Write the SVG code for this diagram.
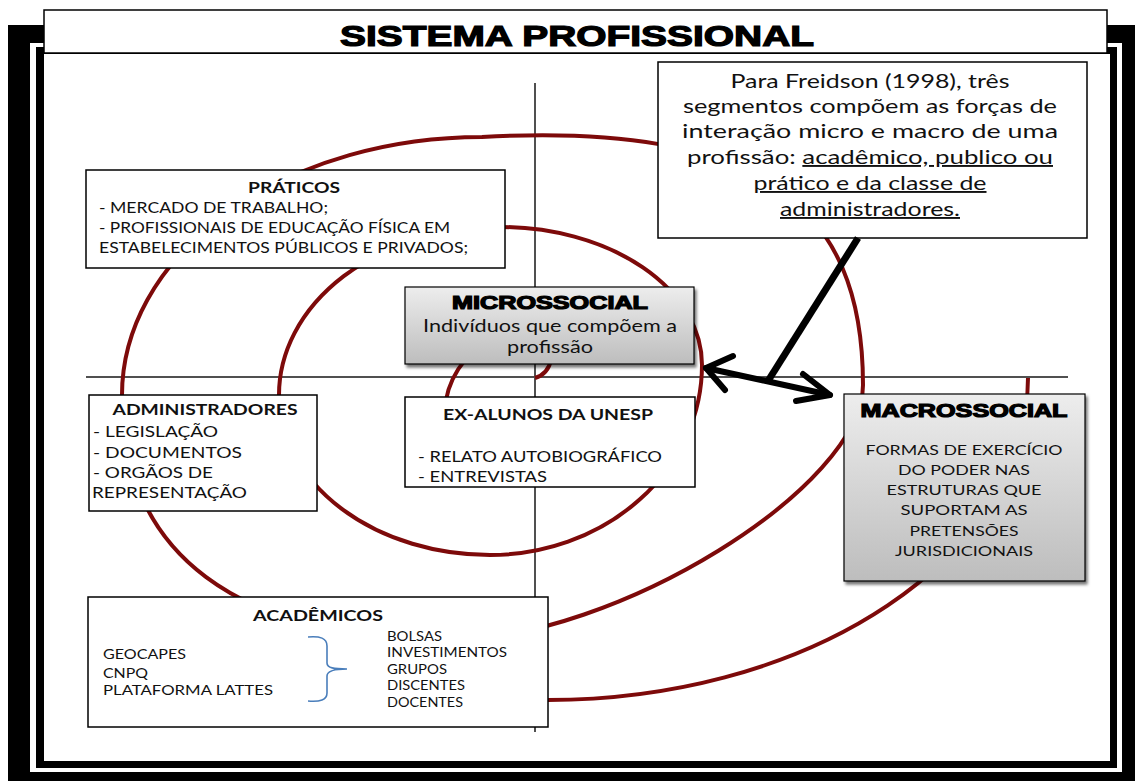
<svg xmlns="http://www.w3.org/2000/svg" width="1135" height="781" viewBox="0 0 1135 781">
<defs>
<style>
.t{font-family:Lato,"Open Sans","Liberation Sans",sans-serif;fill:#111}
.b{font-weight:bold}
.h{font-family:"Liberation Sans",Arial,sans-serif;font-weight:bold;fill:#000;stroke:#000;stroke-width:1.2}
.box{fill:#fff;stroke:#000;stroke-width:1.5}
.gbox{stroke:#000;stroke-width:1.2;filter:url(#sh)}
.sp{fill:none;stroke:#7d0a0a;stroke-width:4}
.ax{stroke:#505050;stroke-width:2;fill:none}
.ar{stroke:#000;stroke-width:6;fill:none;stroke-linecap:round;stroke-linejoin:round}
</style>
<linearGradient id="g" x1="0" y1="0" x2="0" y2="1">
<stop offset="0" stop-color="#ededed"/>
<stop offset="1" stop-color="#bdbdbd"/>
</linearGradient>
<filter id="sh" x="-5%" y="-5%" width="115%" height="120%">
<feDropShadow dx="2" dy="3" stdDeviation="1.5" flood-color="#000" flood-opacity="0.55"/>
</filter>
</defs>

<g id="frame">
<rect x="8" y="25" width="1127" height="756" fill="#000"/>
<rect x="30" y="43" width="1092" height="729" fill="#fff"/>
<rect x="36" y="47" width="1081" height="721" fill="#000"/>
<rect x="44" y="54" width="1066" height="707" fill="#fff"/>
</g>

<g id="title">
<rect x="44" y="10" width="1063" height="43" class="box"/>
<text x="577" y="46" class="h" font-size="29" text-anchor="middle" textLength="474" lengthAdjust="spacingAndGlyphs" stroke-width="1.6">SISTEMA PROFISSIONAL</text>
</g>

<g id="axes">
<line x1="535" y1="83" x2="535" y2="732" class="ax"/>
<line x1="86" y1="377" x2="1068" y2="377" class="ax"/>
</g>

<g id="spiral">
<path class="sp" d="M 122 395 A 360 258 0 0 1 482 137 C 760 122 863 205 863 385 C 863 487 615 640 450 640 C 237 640 122 554 122 395 Z"/>
<path class="sp" d="M 279 395 A 221 168 0 0 1 500 227 A 202 138 0 0 1 702 365 A 212 190 0 0 1 490 555 A 211 160 0 0 1 279 395 Z"/>
<path class="sp" d="M 535 378 Q 548 374 551 360"/>
<path class="sp" d="M 465 360 Q 450 378 446 400"/>
<path class="sp" d="M 1028 378 A 480 322 0 0 1 548 700"/>
</g>

<g id="praticos">
<rect x="86" y="170" width="419" height="98" class="box"/>
<text class="t b" x="294" y="193" font-size="15" text-anchor="middle" textLength="92" lengthAdjust="spacingAndGlyphs">PRÁTICOS</text>
<text class="t" x="99" y="213" font-size="15" textLength="229" lengthAdjust="spacingAndGlyphs">- MERCADO DE TRABALHO;</text>
<text class="t" x="99" y="233" font-size="15" textLength="351" lengthAdjust="spacingAndGlyphs">- PROFISSIONAIS DE EDUCAÇÃO FÍSICA EM</text>
<text class="t" x="99" y="253" font-size="15" textLength="369" lengthAdjust="spacingAndGlyphs">ESTABELECIMENTOS PÚBLICOS E PRIVADOS;</text>
</g>

<g id="freidson">
<rect x="658" y="62" width="429" height="176" class="box"/>
<text class="t" x="870" y="88" font-size="19" text-anchor="middle" textLength="279" lengthAdjust="spacingAndGlyphs">Para Freidson (1998), três</text>
<text class="t" x="870" y="113" font-size="19" text-anchor="middle" textLength="374" lengthAdjust="spacingAndGlyphs">segmentos compõem as forças de</text>
<text class="t" x="870" y="138" font-size="19" text-anchor="middle" textLength="376" lengthAdjust="spacingAndGlyphs">interação micro e macro de uma</text>
<text class="t" x="870" y="164" font-size="19" text-anchor="middle" textLength="366" lengthAdjust="spacingAndGlyphs">profissão: <tspan text-decoration="underline">acadêmico, publico ou</tspan></text>
<text class="t" x="870" y="190" font-size="19" text-anchor="middle" textLength="233" lengthAdjust="spacingAndGlyphs" text-decoration="underline">prático e da classe de</text>
<text class="t" x="870" y="216" font-size="19" text-anchor="middle" textLength="180" lengthAdjust="spacingAndGlyphs" text-decoration="underline">administradores.</text>
</g>

<g id="microssocial">
<rect x="405" y="287" width="289" height="77" fill="url(#g)" class="gbox"/>
<text class="h" x="550" y="309" font-size="18" text-anchor="middle" textLength="196" lengthAdjust="spacingAndGlyphs">MICROSSOCIAL</text>
<text class="t" x="550" y="332" font-size="17" text-anchor="middle" textLength="254" lengthAdjust="spacingAndGlyphs">Indivíduos que compõem a</text>
<text class="t" x="550" y="353" font-size="17" text-anchor="middle" textLength="86" lengthAdjust="spacingAndGlyphs">profissão</text>
</g>

<g id="exalunos">
<rect x="405" y="397" width="290" height="90" class="box"/>
<text class="t b" x="548" y="420" font-size="15" text-anchor="middle" textLength="210" lengthAdjust="spacingAndGlyphs">EX-ALUNOS DA UNESP</text>
<text class="t" x="418" y="462" font-size="15" textLength="244" lengthAdjust="spacingAndGlyphs">- RELATO AUTOBIOGRÁFICO</text>
<text class="t" x="418" y="482" font-size="15" textLength="129" lengthAdjust="spacingAndGlyphs">- ENTREVISTAS</text>
</g>

<g id="administradores">
<rect x="89" y="395" width="228" height="116" class="box"/>
<text class="t b" x="205" y="415" font-size="15" text-anchor="middle" textLength="185" lengthAdjust="spacingAndGlyphs">ADMINISTRADORES</text>
<text class="t" x="93" y="437" font-size="15" textLength="125" lengthAdjust="spacingAndGlyphs">- LEGISLAÇÃO</text>
<text class="t" x="93" y="458" font-size="15" textLength="149" lengthAdjust="spacingAndGlyphs">- DOCUMENTOS</text>
<text class="t" x="93" y="478" font-size="15" textLength="120" lengthAdjust="spacingAndGlyphs">- ORGÃOS DE</text>
<text class="t" x="92" y="498" font-size="15" textLength="155" lengthAdjust="spacingAndGlyphs">REPRESENTAÇÃO</text>
</g>

<g id="macrossocial">
<rect x="844" y="394" width="241" height="187" fill="url(#g)" class="gbox"/>
<text class="h" x="964" y="417" font-size="19" text-anchor="middle" textLength="207" lengthAdjust="spacingAndGlyphs">MACROSSOCIAL</text>
<text class="t" x="964" y="455" font-size="14" text-anchor="middle" textLength="197" lengthAdjust="spacingAndGlyphs">FORMAS DE EXERCÍCIO</text>
<text class="t" x="964" y="475" font-size="14" text-anchor="middle" textLength="132" lengthAdjust="spacingAndGlyphs">DO PODER NAS</text>
<text class="t" x="964" y="495" font-size="14" text-anchor="middle" textLength="155" lengthAdjust="spacingAndGlyphs">ESTRUTURAS QUE</text>
<text class="t" x="964" y="515" font-size="14" text-anchor="middle" textLength="127" lengthAdjust="spacingAndGlyphs">SUPORTAM AS</text>
<text class="t" x="964" y="536" font-size="14" text-anchor="middle" textLength="109" lengthAdjust="spacingAndGlyphs">PRETENSÕES</text>
<text class="t" x="964" y="556" font-size="14" text-anchor="middle" textLength="138" lengthAdjust="spacingAndGlyphs">JURISDICIONAIS</text>
</g>

<g id="academicos">
<rect x="88" y="597" width="460" height="130" class="box"/>
<text class="t b" x="318" y="621" font-size="15" text-anchor="middle" textLength="130" lengthAdjust="spacingAndGlyphs">ACADÊMICOS</text>
<text class="t" x="103" y="659" font-size="13" textLength="83" lengthAdjust="spacingAndGlyphs">GEOCAPES</text>
<text class="t" x="103" y="678" font-size="13" textLength="45" lengthAdjust="spacingAndGlyphs">CNPQ</text>
<text class="t" x="103" y="695" font-size="13" textLength="170" lengthAdjust="spacingAndGlyphs">PLATAFORMA LATTES</text>
<path d="M 308 637 C 320 636 327 638 327 646 L 327 663 C 327 668 334 669 347 669 C 334 669 327 671 327 676 L 327 693 C 327 700 320 702 308 701" fill="none" stroke="#4a7ebb" stroke-width="1.6"/>
<text class="t" x="387" y="641" font-size="13" textLength="55" lengthAdjust="spacingAndGlyphs">BOLSAS</text>
<text class="t" x="387" y="657" font-size="13" textLength="120" lengthAdjust="spacingAndGlyphs">INVESTIMENTOS</text>
<text class="t" x="387" y="674" font-size="13" textLength="60" lengthAdjust="spacingAndGlyphs">GRUPOS</text>
<text class="t" x="387" y="690" font-size="13" textLength="78" lengthAdjust="spacingAndGlyphs">DISCENTES</text>
<text class="t" x="387" y="707" font-size="13" textLength="76" lengthAdjust="spacingAndGlyphs">DOCENTES</text>
</g>

<g id="connectors">
<line x1="858" y1="238" x2="768" y2="381" stroke="#000" stroke-width="7"/>
<path class="ar" d="M 706 368 L 830 395"/>
<path class="ar" d="M 733 356 L 706 368 L 725 390"/>
<path class="ar" d="M 803 374 L 830 395 L 796 401"/>
</g>
</svg>
